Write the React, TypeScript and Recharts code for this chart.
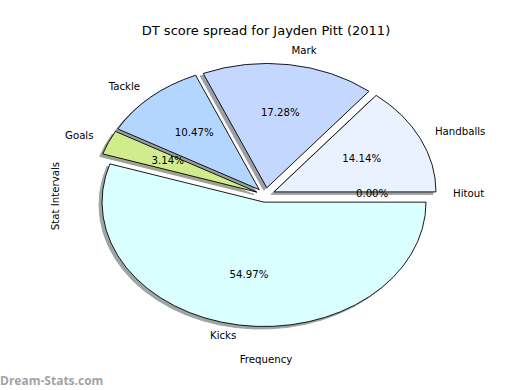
import { PieChart, Pie, Cell } from "recharts";

// ─── Data ─────────────────────────────────────────────────────────────────────

const CATEGORIES = ["Hitout", "Handballs", "Mark", "Tackle", "Goals", "Kicks"];
const SHARES = [0, 14.14, 17.28, 10.47, 3.14, 54.97];
const COLORS = ["#f0f5ff", "#eaf1ff", "#c4d8ff", "#b3d6ff", "#d0ec8c", "#d9ffff"];

const TITLE = "DT score spread for Jayden Pitt (2011)";
const X_LABEL = "Frequency";
const Y_LABEL = "Stat Intervals";
const WATERMARK = "Dream-Stats.com";

// ─── Layout ───────────────────────────────────────────────────────────────────

const W = 520;
const H = 390;
const CX = 265.5;
const CY = 195;
const RX = 162; // the axes are not square, so the pie is an ellipse
const RY = 124.4;
const EXPLODE = 0.058;
const SHADOW_DX = -3;
const SHADOW_DY = 2.5;
const FONT = "'DejaVu Sans', sans-serif";

const pieData = CATEGORIES.map((name, i) => ({ name, value: SHARES[i] }));

const rad = (deg: number) => (deg * Math.PI) / 180;

function darken(hex: string, k = 0.3) {
  const n = parseInt(hex.slice(1), 16);
  const r = Math.round(((n >> 16) & 255) * k);
  const g = Math.round(((n >> 8) & 255) * k);
  const b = Math.round((n & 255) * k);
  return `rgb(${r},${g},${b})`;
}

// exploded elliptical wedge, angles in degrees counter-clockwise from 3 o'clock
function wedgePath(cx: number, cy: number, start: number, end: number) {
  const mid = (start + end) / 2;
  const ox = cx + EXPLODE * RX * Math.cos(rad(mid));
  const oy = cy - EXPLODE * RY * Math.sin(rad(mid));
  const x1 = ox + RX * Math.cos(rad(start));
  const y1 = oy - RY * Math.sin(rad(start));
  const x2 = ox + RX * Math.cos(rad(end));
  const y2 = oy - RY * Math.sin(rad(end));
  const large = Math.abs(end - start) > 180 ? 1 : 0;
  return `M${ox},${oy} L${x1},${y1} A${RX},${RY} 0 ${large} 0 ${x2},${y2} Z`;
}

function ShadowShape(props: any) {
  const { cx, cy, startAngle, endAngle, fill } = props;
  return (
    <path
      d={wedgePath(cx, cy, startAngle, endAngle)}
      transform={`translate(${SHADOW_DX},${SHADOW_DY})`}
      fill={fill}
      stroke={fill}
      strokeWidth={1}
      opacity={0.5}
    />
  );
}

function WedgeShape(props: any) {
  const { cx, cy, startAngle, endAngle, fill } = props;
  return (
    <path
      d={wedgePath(cx, cy, startAngle, endAngle)}
      fill={fill}
      stroke="#000"
      strokeWidth={0.9}
      strokeLinejoin="miter"
    />
  );
}

function renderLabel(props: any) {
  const { cx, cy, midAngle, percent } = props;
  const name = props.payload?.name ?? props.name;
  const c = Math.cos(rad(midAngle));
  const s = Math.sin(rad(midAngle));
  const ox = cx + EXPLODE * RX * c;
  const oy = cy - EXPLODE * RY * s;
  const lx = ox + 1.1 * RX * c;
  const ly = oy - 1.1 * RY * s;
  const px = ox + 0.6 * RX * c;
  const py = oy - 0.6 * RY * s;
  const style = { fontFamily: FONT, fontSize: 10.2, fill: "#000" };
  return (
    <g>
      <text
        x={lx}
        y={ly - 1.5}
        textAnchor={lx > cx ? "start" : "end"}
        dominantBaseline="central"
        style={style}
      >
        {name}
      </text>
      <text
        x={px}
        y={py - 1.5}
        textAnchor="middle"
        dominantBaseline="central"
        style={style}
      >
        {(percent * 100).toFixed(2)}%
      </text>
    </g>
  );
}

// ─── Component ────────────────────────────────────────────────────────────────

export default function App() {
  return (
    <div style={{ position: "fixed", left: 0, top: 0, width: W, height: H, background: "#fff" }}>
      <PieChart width={W} height={H} margin={{ top: 0, right: 0, bottom: 0, left: 0 }}>
        <text
          x={266}
          y={30.5}
          textAnchor="middle"
          dominantBaseline="central"
          style={{ fontFamily: FONT, fontSize: 13, fill: "#000" }}
        >
          {TITLE}
        </text>
        <text
          x={266}
          y={359}
          textAnchor="middle"
          dominantBaseline="central"
          style={{ fontFamily: FONT, fontSize: 10.2, fill: "#000" }}
        >
          {X_LABEL}
        </text>
        <text
          x={55}
          y={196}
          textAnchor="middle"
          dominantBaseline="central"
          transform="rotate(-90, 55, 196)"
          style={{ fontFamily: FONT, fontSize: 10.2, fill: "#000" }}
        >
          {Y_LABEL}
        </text>
        <text
          x={0}
          y={384.5}
          style={{ fontFamily: "'Open Sans', sans-serif", fontSize: 12, fontWeight: 700, fill: "#a3a3a3" }}
        >
          {WATERMARK}
        </text>

        {/* shadows first so every wedge sits above them */}
        <Pie
          data={pieData}
          dataKey="value"
          nameKey="name"
          cx={CX}
          cy={CY}
          outerRadius={RX}
          startAngle={0}
          endAngle={360}
          stroke="none"
          shape={ShadowShape}
          isAnimationActive={false}
        >
          {pieData.map((d, i) => (
            <Cell key={d.name} fill={darken(COLORS[i])} />
          ))}
        </Pie>
        <Pie
          data={pieData}
          dataKey="value"
          nameKey="name"
          cx={CX}
          cy={CY}
          outerRadius={RX}
          startAngle={0}
          endAngle={360}
          stroke="#000"
          shape={WedgeShape}
          label={renderLabel}
          labelLine={false}
          isAnimationActive={false}
        >
          {pieData.map((d, i) => (
            <Cell key={d.name} fill={COLORS[i]} />
          ))}
        </Pie>
      </PieChart>
    </div>
  );
}
